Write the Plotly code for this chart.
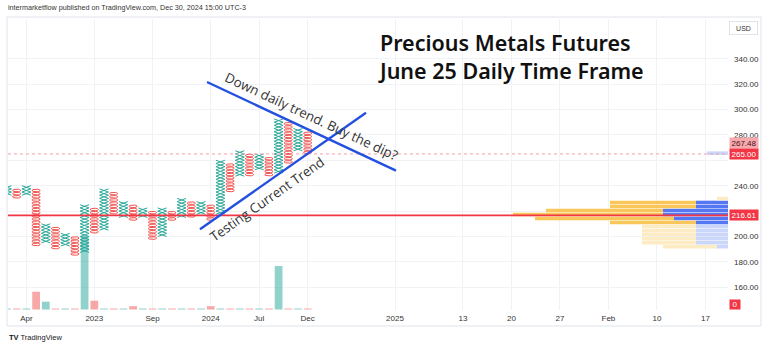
import numpy as np
import plotly.graph_objects as go

# ---------------- data ----------------
BOX = 2.5  # point & figure box size (USD)

col_type = ["X", "O", "X", "O", "X", "O", "X", "O", "X", "O",
            "X", "O", "X", "O", "X", "O", "X", "O", "X", "O",
            "X", "O", "X", "O", "X", "O", "X", "O", "X", "O",
            "X", "O"]
col_low = [232.5, 230.0, 232.5, 192.5, 195.0, 190.0, 192.5, 185.0, 187.5, 202.5,
           205.0, 217.5, 215.0, 212.5, 215.0, 197.5, 200.0, 212.5, 215.0, 215.0,
           217.5, 212.5, 217.5, 235.0, 247.5, 247.5, 252.5, 247.5, 250.0, 257.5,
           267.5, 265.0]
col_high = [240.0, 237.5, 240.0, 237.5, 210.0, 207.5, 202.5, 200.0, 225.0, 222.5,
            237.5, 235.0, 227.5, 225.0, 222.5, 220.0, 222.5, 220.0, 230.0, 227.5,
            227.5, 225.0, 260.0, 257.5, 267.5, 265.0, 265.0, 262.5, 292.5, 290.0,
            285.0, 282.5]
col_volume = [1, 1, 1, 17.8, 7.8, 1, 1, 1, 73.5, 8.8,
              1, 1, 1, 3.3, 1, 1, 1, 1, 1, 1,
              1, 3.3, 1, 1, 1, 1, 1, 1, 43.5, 1,
              1, 1]

x_tick_pos = [2, 9, 15, 21, 26, 31, 40, 47, 52, 57, 62, 67, 72]
x_tick_text = ["Apr", "2023", "Sep", "2024", "Jul", "Dec", "2025",
               "13", "20", "27", "Feb", "10", "17"]
price_ticks = [160, 180, 200, 220, 240, 260, 280, 300, 320, 340]
price_tick_text = ["160.00", "180.00", "200.00", "", "240.00", "",
                   "280.00", "300.00", "320.00", "340.00"]

# fixed-range volume profile (rows by price)
vp_price = [265.6, 229.9, 226.8, 223.6, 220.5, 217.3, 214.1, 211.0,
            207.8, 204.6, 201.5, 198.3, 195.1, 192.0]
vp_up = [0, 11, 86, 86, 117, 150, 139, 86, 54, 54, 54, 54, 54, 54]
vp_down = [21, 0, 32, 32, 65, 65, 54, 32, 32, 32, 32, 32, 32, 11]
vp_value_area = [False, False, True, True, True, True, True, True,
                 False, False, False, False, False, False]

last_price = 265.00
prev_close = 267.48
level_line = 216.61

# ---------------- styling ----------------
TEAL = "#2aa898"
RED = "#ef5350"
LABEL_RED = "#f23645"

# ---------------- point & figure glyphs ----------------
hw_x, rx_o = 0.46, 0.43
theta = np.linspace(0, 2 * np.pi, 17)
x_x, x_y, o_x, o_y = [], [], [], []
for i, (t, lo, hi) in enumerate(zip(col_type, col_low, col_high)):
    n = int(round((hi - lo) / BOX))
    for k in range(n):
        p = lo + k * BOX
        if t == "X":
            x_x += [i - hw_x, i + hw_x, None, i - hw_x, i + hw_x, None]
            x_y += [p, p + BOX, None, p + BOX, p, None]
        else:
            o_x += list(i + rx_o * np.cos(theta)) + [None]
            o_y += list(p + BOX / 2 + BOX * 0.42 * np.sin(theta)) + [None]

fig = go.Figure()

# volume histogram under the columns
vol_colors = ["rgba(38,166,154,0.5)" if t == "X" else "rgba(239,83,80,0.5)" for t in col_type]
fig.add_trace(go.Bar(x=list(range(len(col_volume))), y=col_volume, width=0.8,
                     marker=dict(color=vol_colors, line=dict(width=0)),
                     xaxis="x", yaxis="y3", hoverinfo="skip"))

# volume profile rows (blue part anchored to the right edge, yellow stacked left of it)
down_colors = ["#5677f2" if v else "#cbd6fb" for v in vp_value_area]
up_colors = ["#f9c65a" if v else "#fdebc3" for v in vp_value_area]
fig.add_trace(go.Bar(y=vp_price, x=vp_down, base=[0] * len(vp_down), orientation="h",
                     width=2.8, marker=dict(color=down_colors, line=dict(width=0)),
                     xaxis="x2", yaxis="y", hoverinfo="skip"))
fig.add_trace(go.Bar(y=vp_price, x=vp_up, base=vp_down, orientation="h",
                     width=2.8, marker=dict(color=up_colors, line=dict(width=0)),
                     xaxis="x2", yaxis="y", hoverinfo="skip"))

fig.add_trace(go.Scatter(x=x_x, y=x_y, mode="lines", line=dict(color=TEAL, width=1),
                         hoverinfo="skip"))
fig.add_trace(go.Scatter(x=o_x, y=o_y, mode="lines", line=dict(color=RED, width=1),
                         hoverinfo="skip"))

# ---------------- layout ----------------
W, H = 768, 349
L, R, T, B = 8, 728, 19, 310
PX_PER_COL = 9.7
X0_PX = 7.0          # pixel of column 0
P_PX = 1.27          # pixels per USD
P160_PX = 287.3      # pixel row of 160.00


def px_to_col(px):
    return (px - X0_PX) / PX_PER_COL


def py_to_price(py):
    return 160 + (P160_PX - py) / P_PX


def paper_x(px):
    return (px - L) / (R - L)


def paper_y(py):
    return (B - py) / (B - T)


tick_font = dict(family="Liberation Sans", size=8, color="#333333")
grid = "#f0f2f6"

fig.update_layout(
    width=W, height=H,
    margin=dict(l=L, r=W - R, t=T, b=H - B, pad=0),
    paper_bgcolor="white", plot_bgcolor="white",
    showlegend=False, barmode="overlay",
    xaxis=dict(range=[px_to_col(L), px_to_col(R)], tickvals=x_tick_pos, ticktext=x_tick_text,
               showgrid=True, gridcolor=grid, gridwidth=1, zeroline=False, showline=False,
               ticks="", tickfont=tick_font, ticklabelstandoff=2),
    xaxis2=dict(overlaying="x", range=[R - L, 0], visible=False, anchor="y"),
    yaxis=dict(range=[py_to_price(B), py_to_price(T)], side="right", tickvals=price_ticks,
               ticktext=price_tick_text, showgrid=True, gridcolor=grid, gridwidth=1,
               zeroline=False, showline=False, ticks="", tickfont=tick_font,
               ticklabelstandoff=5),
    yaxis3=dict(overlaying="y", range=[-0.5, B - T - 0.5], visible=False),
)

# level lines
fig.add_shape(type="line", xref="paper", x0=0, x1=1, yref="y", y0=last_price, y1=last_price,
              line=dict(color="#f5a0a6", width=1, dash="dot"))
fig.add_shape(type="line", xref="paper", x0=0, x1=1, yref="y", y0=level_line, y1=level_line,
              line=dict(color=LABEL_RED, width=1.6))

# trend lines
blue = "#2450e0"
fig.add_shape(type="line", xref="x", yref="y",
              x0=px_to_col(207), y0=py_to_price(82), x1=px_to_col(396), y1=py_to_price(170.7),
              line=dict(color=blue, width=2.4))
fig.add_shape(type="line", xref="x", yref="y",
              x0=px_to_col(200), y0=py_to_price(229.3), x1=px_to_col(366), y1=py_to_price(112.7),
              line=dict(color=blue, width=2.4))

# chart panel frame
fig.add_shape(type="rect", xref="paper", yref="paper",
              x0=paper_x(7), x1=paper_x(761), y0=paper_y(326), y1=paper_y(17),
              line=dict(color="#e0e3eb", width=1), layer="below")

note_font = dict(family="Open Sans", size=13.3, color="#333333")
fig.add_annotation(x=px_to_col(311), y=py_to_price(116), xref="x", yref="y",
                   text="Down daily trend. Buy the dip?", showarrow=False,
                   textangle=25, font=note_font)
fig.add_annotation(x=px_to_col(267), y=py_to_price(199), xref="x", yref="y",
                   text="Testing Current Trend", showarrow=False,
                   textangle=-35, font=note_font)

title_font = dict(family="Noto Sans", size=21.5, color="#111111", weight=600)
fig.add_annotation(x=paper_x(376), y=paper_y(56), xref="paper", yref="paper",
                   xanchor="left", yanchor="middle", align="left", showarrow=False,
                   text="Precious Metals Futures<br>June 25 Daily Time Frame", font=title_font)

# header and footer
fig.add_annotation(x=paper_x(6), y=paper_y(8), xref="paper", yref="paper",
                   xanchor="left", yanchor="middle", showarrow=False,
                   text="intermarketflow published on TradingView.com, Dec 30, 2024 15:00 UTC-3",
                   font=dict(family="Liberation Sans", size=7.2, color="#333333"))
fig.add_annotation(x=paper_x(7), y=paper_y(337), xref="paper", yref="paper",
                   xanchor="left", yanchor="middle", showarrow=False,
                   text="<b>TV</b> TradingView",
                   font=dict(family="Liberation Sans", size=7.5, color="#131722"))

# price scale labels
lab_font = dict(family="Liberation Sans", size=8, color="white")
fig.add_annotation(x=paper_x(729), y=prev_close, xref="paper", yref="y", yshift=8,
                   xanchor="left", yanchor="middle", showarrow=False,
                   text=f"{prev_close:.2f}", bgcolor="#f7a9ae", width=27, height=9,
                   borderpad=0.5, font=dict(family="Liberation Sans", size=8, color="#4a1015"))
fig.add_annotation(x=paper_x(729), y=last_price, xref="paper", yref="y",
                   xanchor="left", yanchor="middle", showarrow=False,
                   text=f"{last_price:.2f}", bgcolor=LABEL_RED, width=27, height=9,
                   borderpad=0.5, font=lab_font)
fig.add_annotation(x=paper_x(729), y=level_line, xref="paper", yref="y",
                   xanchor="left", yanchor="middle", showarrow=False,
                   text=f"{level_line:.2f}", bgcolor=LABEL_RED, width=27, height=9,
                   borderpad=0.5, font=lab_font)
fig.add_annotation(x=paper_x(729), y=0, xref="paper", yref="y3", yshift=5,
                   xanchor="left", yanchor="middle", showarrow=False,
                   text="0", bgcolor=LABEL_RED, width=9, height=8,
                   borderpad=0.5, font=lab_font)
fig.add_annotation(x=paper_x(729), y=paper_y(28), xref="paper", yref="paper",
                   xanchor="left", yanchor="middle", showarrow=False,
                   text="USD", bgcolor="white", bordercolor="#e0e3eb", borderwidth=1,
                   width=26, height=11, borderpad=0.5,
                   font=dict(family="Liberation Sans", size=7, color="#333333"))

fig.write_html("out.html")
